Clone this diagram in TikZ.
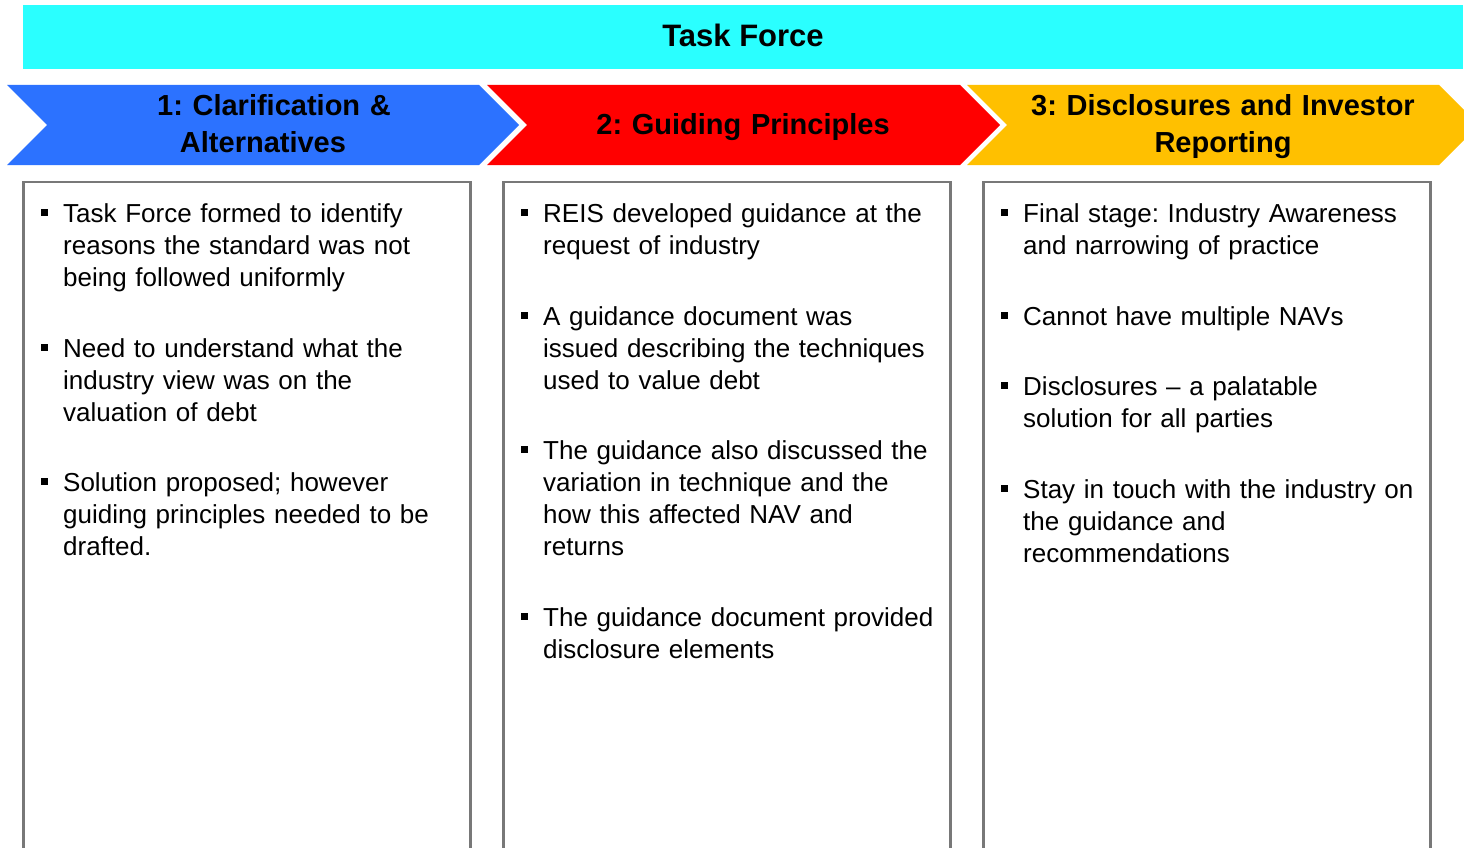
\documentclass[tikz,border=0pt]{standalone}
\usepackage{fontspec}
\setmainfont{Liberation Sans}
\frenchspacing
\definecolor{bannercyan}{RGB}{42,255,255}
\definecolor{stepblue}{RGB}{44,114,255}
\definecolor{stepred}{RGB}{255,0,0}
\definecolor{stepgold}{RGB}{255,192,0}
\definecolor{panelframe}{RGB}{120,120,120}
\begin{document}
\begin{tikzpicture}[x=1pt,y=-1pt,
  titletext/.style={font=\fontsize{31}{37}\selectfont\bfseries, inner sep=0, anchor=base},
  head/.style={font=\fontsize{29}{37}\selectfont\bfseries, align=center, text width=440pt, inner sep=0, anchor=base},
  body/.style={font=\fontsize{26}{32}\selectfont, anchor=base west, inner sep=0, text width=430pt, align=left},
  dot/.style={fill=black, minimum size=7pt, inner sep=0, outer sep=0},
  panel/.style={draw=panelframe, line width=2.5pt, anchor=north west, minimum width=447pt, minimum height=720pt, inner sep=0, outer sep=0}]

\clip (0,0) rectangle (1464,848);
\fill[white] (0,0) rectangle (1464,848);

% banner across the top
\fill[bannercyan] (23,5) rectangle (1463,69);
\node[titletext] (title) at (743,46.7) {Task Force};

% the three process chevrons
\fill[stepblue] (7,85) -- (479,85) -- (519,125) -- (479,165) -- (7,165) -- (47,125) -- cycle;
\fill[stepred]  (487,85) -- (960,85) -- (1000,125) -- (960,165) -- (487,165) -- (527,125) -- cycle;
\fill[stepgold] (967,85) -- (1439,85) -- (1479,125) -- (1439,165) -- (967,165) -- (1007,125) -- cycle;

\node[head] (h1) at (263,115.7) {\hspace*{22pt}1: Clarification \&\\Alternatives};
\node[head] (h2) at (743,134.5) {2: Guiding Principles};
\node[head] (h3) at (1223,115.7) {3: Disclosures and Investor\\Reporting};

% content panels
\node[panel] (p1) at (23.5,182) {};
\node[panel] (p2) at (503.5,182) {};
\node[panel] (p3) at (983.5,182) {};

% column 1
\node[dot] (b11) at (44.5,212) {};
\node[body] (t11) at (63,222) {Task Force formed to identify\\reasons the standard was not\\being followed uniformly};
\node[dot] (b12) at (44.5,347) {};
\node[body] (t12) at (63,357) {Need to understand what the\\industry view was on the\\valuation of debt};
\node[dot] (b13) at (44.5,481) {};
\node[body] (t13) at (63,491) {Solution proposed; however\\guiding principles needed to be\\drafted.};

% column 2
\node[dot] (b21) at (524.5,212) {};
\node[body] (t21) at (543,222) {REIS developed guidance at the\\request of industry};
\node[dot] (b22) at (524.5,315) {};
\node[body] (t22) at (543,325) {A guidance document was\\issued describing the techniques\\used to value debt};
\node[dot] (b23) at (524.5,449) {};
\node[body] (t23) at (543,459) {The guidance also discussed the\\variation in technique and the\\how this affected NAV and\\returns};
\node[dot] (b24) at (524.5,616) {};
\node[body] (t24) at (543,626) {The guidance document provided\\disclosure elements};

% column 3
\node[dot] (b31) at (1004.5,212) {};
\node[body] (t31) at (1023,222) {Final stage: Industry Awareness\\and narrowing of practice};
\node[dot] (b32) at (1004.5,315) {};
\node[body] (t32) at (1023,325) {Cannot have multiple NAVs};
\node[dot] (b33) at (1004.5,385) {};
\node[body] (t33) at (1023,395) {Disclosures – a palatable\\solution for all parties};
\node[dot] (b34) at (1004.5,488) {};
\node[body] (t34) at (1023,498) {Stay in touch with the industry on\\the guidance and\\recommendations};
\end{tikzpicture}
\end{document}
